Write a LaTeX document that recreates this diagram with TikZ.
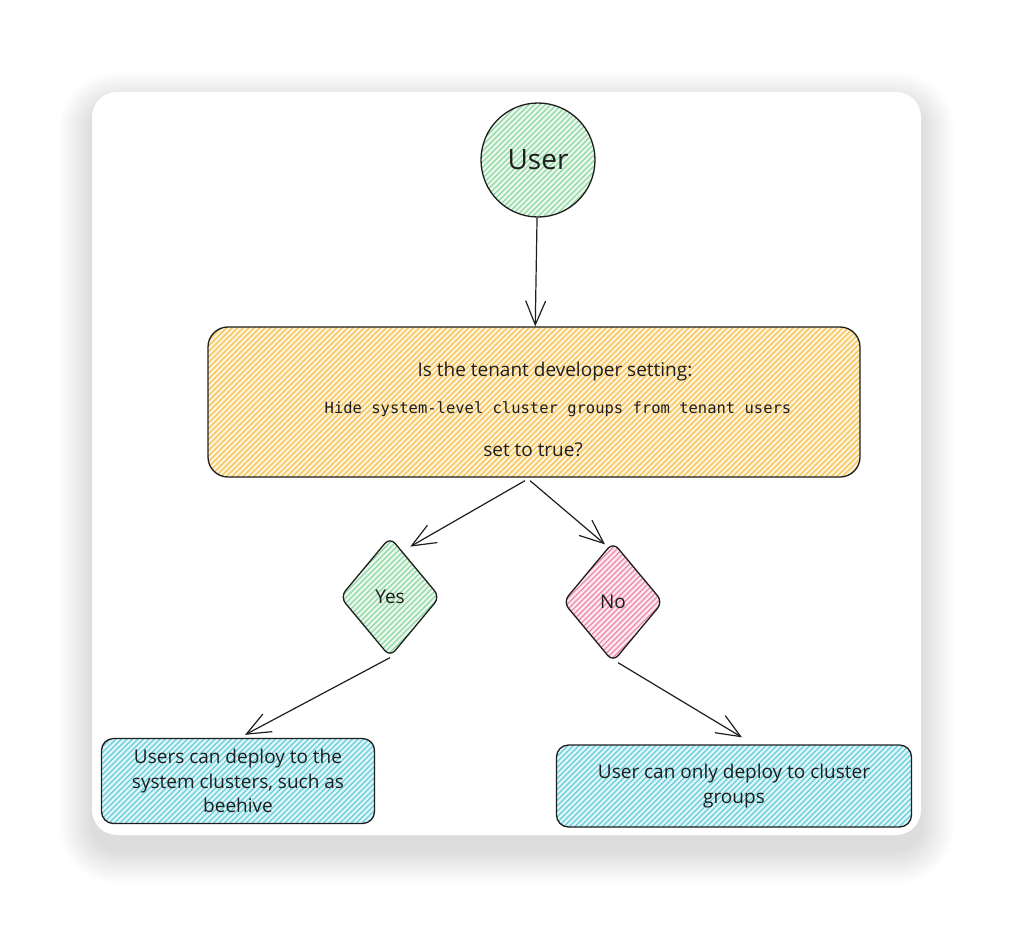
\documentclass[tikz,border=0pt]{standalone}
\usepackage{fontspec}
\setmainfont{Open Sans}
\newfontfamily\monofont{DejaVu Sans Mono}
\usetikzlibrary{shapes.geometric,arrows.meta,calc}
\definecolor{ink}{HTML}{1E1E1E}
\definecolor{hgreen}{HTML}{8FD9A2}
\definecolor{horange}{HTML}{F7C24E}
\definecolor{hpink}{HTML}{EE8AAA}
\definecolor{hcyan}{HTML}{66CFDD}
\tikzset{
  hatch/.style={fill=#1!20,
    path picture={\foreach \k in {0,...,150}{
      \draw[#1, line width=1.2pt]
        ($(path picture bounding box.south west)+(-160pt+\k*5.5pt,-2pt)$) -- ++(200pt,200pt);}}},
  outline/.style={draw=ink, line width=1.3pt},
  arr/.style={draw=ink, line width=1.2pt,
    -{Straight Barb[length=24pt,width=20pt,line width=1.2pt]}},
  hand/.style={font=\fontsize{19}{24.5}\selectfont, text=ink},
  shadowlayer/.style={fill=black, opacity=0.0055},
}
\begin{document}
\begin{tikzpicture}[x=1pt,y=-1pt]
\useasboundingbox (0,0) rectangle (1013,927);
\fill[white] (0,0) rectangle (1013,927);
% card shadow (soft, layered)
\foreach \i in {1,...,34} {
  \pgfmathsetmacro{\rr}{25+\i}
  \fill[shadowlayer, rounded corners=\rr pt] (92-\i,106-\i) rectangle (921+\i,850+\i);
}
% card
\fill[white, rounded corners=25pt] (92,92) rectangle (921,835);

% nodes
\node[circle, outline, hatch=hgreen, minimum size=114pt, inner sep=0pt,
  font=\fontsize{28}{30}\selectfont, text=ink] (user) at (538,160) {User};

\node[rectangle, rounded corners=20pt, outline, hatch=horange,
  minimum width=652pt, minimum height=150pt] (q) at (534,402) {};
\node[hand, inner sep=0pt] (qa) at (555,372) {Is the tenant developer setting:};
\node[font=\monofont\fontsize{15.5}{18}\selectfont, text=ink, inner sep=0pt] (qb) at (558,409) {Hide system-level cluster groups from tenant users};
\node[hand, inner sep=0pt] (qc) at (533,450) {set to true?};

\node[diamond, outline, hatch=hgreen, rounded corners=8pt, inner sep=0pt,
  minimum width=100pt, minimum height=120pt, hand] (yes) at (390,597) {Yes};
\node[diamond, outline, hatch=hpink, rounded corners=8pt, inner sep=0pt,
  minimum width=100pt, minimum height=120pt, hand] (no) at (613,602) {No};

\node[rectangle, rounded corners=12pt, outline, hatch=hcyan,
  minimum width=273pt, minimum height=85pt, align=center, hand, inner sep=0pt] (lb) at (238,781)
  {Users can deploy to the\\system clusters, such as\\beehive};
\node[rectangle, rounded corners=12pt, outline, hatch=hcyan,
  minimum width=355pt, minimum height=82pt, align=center, hand, inner sep=0pt] (rb) at (734,786)
  {User can only deploy to cluster\\groups};

% connectors
\draw[arr] (user) -- (q);
\draw[arr] ($(q.south)+(-9,3)$) -- ($(yes.north)!0.4!(yes.east)+(0,-14)$);
\draw[arr] ($(q.south)+(-4,3)$) -- ($(no.north)+(-8,3)$);
\draw[arr] (yes.south) -- ($(lb.north)+(7,-3)$);
\draw[arr] ($(no.south)+(5,0)$) -- ($(rb.north)+(8,-7)$);
\end{tikzpicture}
\end{document}
